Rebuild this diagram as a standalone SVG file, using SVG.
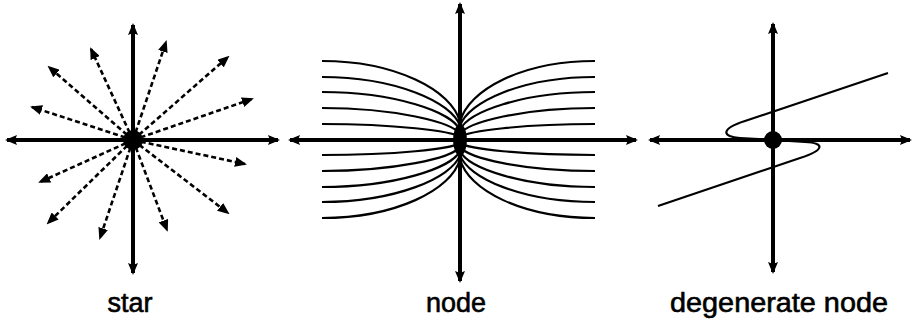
<svg xmlns="http://www.w3.org/2000/svg" width="915" height="320" viewBox="0 0 915 320">
<style>
.axis{stroke:#000;stroke-width:4;fill:none;marker-start:url(#ah);marker-end:url(#ah)}
.ray{stroke:#000;stroke-width:2.6;fill:none;stroke-dasharray:5 3;marker-end:url(#sh)}
.traj{stroke:#000;stroke-width:2.2;fill:none}
.lbl{font-family:"Liberation Sans",Arial,sans-serif;font-size:27px;fill:#000;stroke:#000;stroke-width:0.6;text-anchor:middle}
</style>
<defs>
<marker id="ah" viewBox="0 0 12 10" refX="10" refY="5" markerWidth="12" markerHeight="10" markerUnits="userSpaceOnUse" orient="auto-start-reverse">
<path d="M0,0 L12,5 L0,10 L2,5 z" fill="#000"/>
</marker>
<marker id="sh" viewBox="0 0 12 10" refX="10" refY="5" markerWidth="12" markerHeight="10" markerUnits="userSpaceOnUse" orient="auto">
<path d="M0,0 L12,5 L0,10 z" fill="#000" stroke="none"/>
</marker>
</defs>

<g id="star">
<g id="star-connectors">
<line class="ray" x1="133" y1="140" x2="166" y2="42"/>
<line class="ray" x1="133" y1="140" x2="228" y2="57"/>
<line class="ray" x1="133" y1="140" x2="252" y2="99"/>
<line class="ray" x1="133" y1="140" x2="245" y2="164"/>
<line class="ray" x1="133" y1="140" x2="228" y2="213"/>
<line class="ray" x1="133" y1="140" x2="167" y2="230"/>
<line class="ray" x1="133" y1="140" x2="100" y2="238"/>
<line class="ray" x1="133" y1="140" x2="48" y2="223"/>
<line class="ray" x1="133" y1="140" x2="40" y2="182"/>
<line class="ray" x1="133" y1="140" x2="32" y2="107"/>
<line class="ray" x1="133" y1="140" x2="49" y2="67"/>
<line class="ray" x1="133" y1="140" x2="91" y2="49"/>
<line class="axis" x1="7" y1="140" x2="278" y2="140"/>
<line class="axis" x1="133" y1="25" x2="133" y2="273"/>
</g>
<circle cx="133" cy="140" r="10" fill="#000"/>
<text class="lbl" x="130" y="312">star</text>
</g>

<g id="node">
<g id="node-connectors">
<path class="traj" d="M322,61 C395,61 452,90 460,122"/>
<path class="traj" d="M322,77 C395,77 452,102 460,126"/>
<path class="traj" d="M322,92 C395,92 452,112 460,130"/>
<path class="traj" d="M322,108 C395,108 452,122 460,134"/>
<path class="traj" d="M322,124 C395,124 452,131 460,137"/>
<path class="traj" d="M322,155 C395,155 452,149 460,143"/>
<path class="traj" d="M322,171 C395,171 452,158 460,147"/>
<path class="traj" d="M322,187 C395,187 452,168 460,151"/>
<path class="traj" d="M322,202 C395,202 452,178 460,155"/>
<path class="traj" d="M322,218 C395,218 452,190 460,159"/>
<path class="traj" d="M595,61 C522,61 468,90 460,122"/>
<path class="traj" d="M595,77 C522,77 468,102 460,126"/>
<path class="traj" d="M595,92 C522,92 468,112 460,130"/>
<path class="traj" d="M595,108 C522,108 468,122 460,134"/>
<path class="traj" d="M595,124 C522,124 468,131 460,137"/>
<path class="traj" d="M595,155 C522,155 468,149 460,143"/>
<path class="traj" d="M595,171 C522,171 468,158 460,147"/>
<path class="traj" d="M595,187 C522,187 468,168 460,151"/>
<path class="traj" d="M595,202 C522,202 468,178 460,155"/>
<path class="traj" d="M595,218 C522,218 468,190 460,159"/>
<line class="axis" x1="290" y1="140" x2="636" y2="140"/>
<line class="axis" x1="460" y1="4" x2="460" y2="281"/>
</g>
<ellipse cx="460" cy="140" rx="7" ry="16" fill="#000"/>
<text class="lbl" x="456" y="312">node</text>
</g>

<g id="degenerate">
<g id="degenerate-connectors">
<path class="traj" d="M888,73 L745,121 C720,129 722,137 740,138 L773,140 L805,142 C825,143 825,150 800,158 L658,206"/>
<line class="axis" x1="650" y1="140" x2="910" y2="140"/>
<line class="axis" x1="773" y1="24" x2="773" y2="272"/>
</g>
<circle cx="773" cy="140" r="9" fill="#000"/>
<text class="lbl" x="779" y="312" textLength="218" lengthAdjust="spacingAndGlyphs">degenerate node</text>
</g>
</svg>
